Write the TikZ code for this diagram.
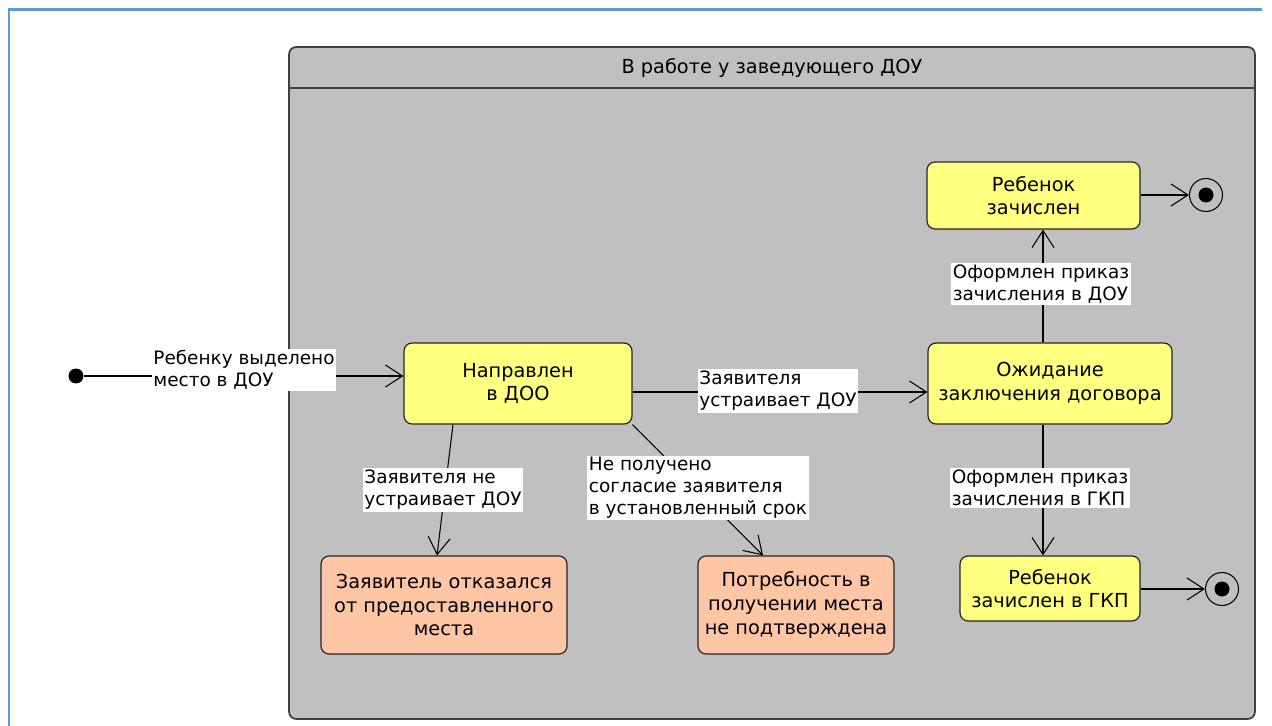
\documentclass[tikz,border=0pt]{standalone}
\usepackage{fontspec}
\setmainfont{DejaVu Sans}
\usetikzlibrary{arrows.meta}
\definecolor{boxyellow}{HTML}{FFFF80}
\definecolor{boxsalmon}{HTML}{FFC6A6}
\definecolor{framegray}{HTML}{C0C0C0}
\definecolor{frameblue}{HTML}{5B9BD5}

\begin{document}
\begin{tikzpicture}[x=0.02cm,y=-0.02cm]
\useasboundingbox (0,0) rectangle (1272,726);

\tikzstyle{state}=[rectangle, draw=black!85, line width=0.7pt, rounded corners=1.6mm, fill=boxyellow,
    align=center, inner sep=2pt, font=\fontsize{11}{13.5}\selectfont]
\tikzstyle{stop}=[state, fill=boxsalmon]
\tikzstyle{lbl}=[fill=white, inner sep=1pt, align=left, font=\fontsize{10.5}{12.5}\selectfont]
\tikzstyle{edge}=[draw, line width=0.6pt, -{Straight Barb[length=3.4mm,width=4.4mm]}]
\tikzstyle{init}=[circle, fill=black, inner sep=0pt, minimum size=3mm]
\tikzstyle{final}=[circle, draw, line width=0.6pt, inner sep=0pt, minimum size=6.6mm,
    path picture={\fill (path picture bounding box.center) circle (1.5mm);}]

% outer frame
\draw[frameblue, line width=0.6mm] (9,726) -- (9,10) -- (1262,10);

% composite state
\node[rectangle, draw=black!75, line width=1pt, fill=framegray, rounded corners=1.4mm,
    minimum width=19.32cm, minimum height=13.44cm] (work) at (772,383) {};
\draw[black!75, line width=0.8pt] (work.west |- 0,88) -- (work.east |- 0,88);
\node[font=\fontsize{11}{13}\selectfont] (title) at (772,68) {В работе у заведующего ДОУ};

% states
\node[state, minimum width=4.56cm, minimum height=1.62cm] (dir) at (518,383.5) {Направлен\\в ДОО};
\node[state, minimum width=4.88cm, minimum height=1.62cm] (wait) at (1050,383.5) {Ожидание\\заключения договора};
\node[state, minimum width=4.26cm, minimum height=1.34cm] (enr) at (1033.5,195.5) {Ребенок\\зачислен};
\node[state, minimum width=3.6cm, minimum height=1.3cm] (gkp) at (1050,588.5) {Ребенок\\зачислен в ГКП};
\node[stop, minimum width=4.92cm, minimum height=1.96cm] (refuse) at (444,605)
    {Заявитель отказался\\от предоставленного\\места};
\node[stop, minimum width=3.92cm, minimum height=1.96cm] (noconf) at (796,605)
    {Потребность в\\получении места\\не подтверждена};

\node[init] (start) at (76,376) {};
\node[final] (end1) at (1206,195) {};
\node[final] (end2) at (1222,589) {};

% transitions
\draw[edge] (start) -- (start -| dir.west)
    node[lbl] (l1) at (244,370) {Ребенку выделено\\место в ДОУ};
\draw[edge] (dir.east |- 0,392) -- (wait.west |- 0,392)
    node[lbl] (l2) at (778,391) {Заявителя\\устраивает ДОУ};
\draw[edge] (wait.north -| 1043,0) -- (enr.south -| 1043,0)
    node[lbl] (l3) at (1041,284) {Оформлен приказ\\зачисления в ДОУ};
\draw[edge] (wait.south -| 1043,0) -- (gkp.north -| 1043,0)
    node[lbl] (l4) at (1040,488) {Оформлен приказ\\зачисления в ГКП};
\draw[edge] (dir.south -| 453,0) -- (refuse.north -| 437,0)
    node[lbl] (l5) at (443,490) {Заявителя не\\устраивает ДОУ};
\draw[edge] (dir.south east) -- (noconf.north -| 763,0)
    node[lbl] (l6) at (698,488) {Не получено\\согласие заявителя\\в установленный срок};
\draw[edge] (enr.east |- end1) -- (end1);
\draw[edge] (gkp.east |- end2) -- (end2);
\end{tikzpicture}
\end{document}
